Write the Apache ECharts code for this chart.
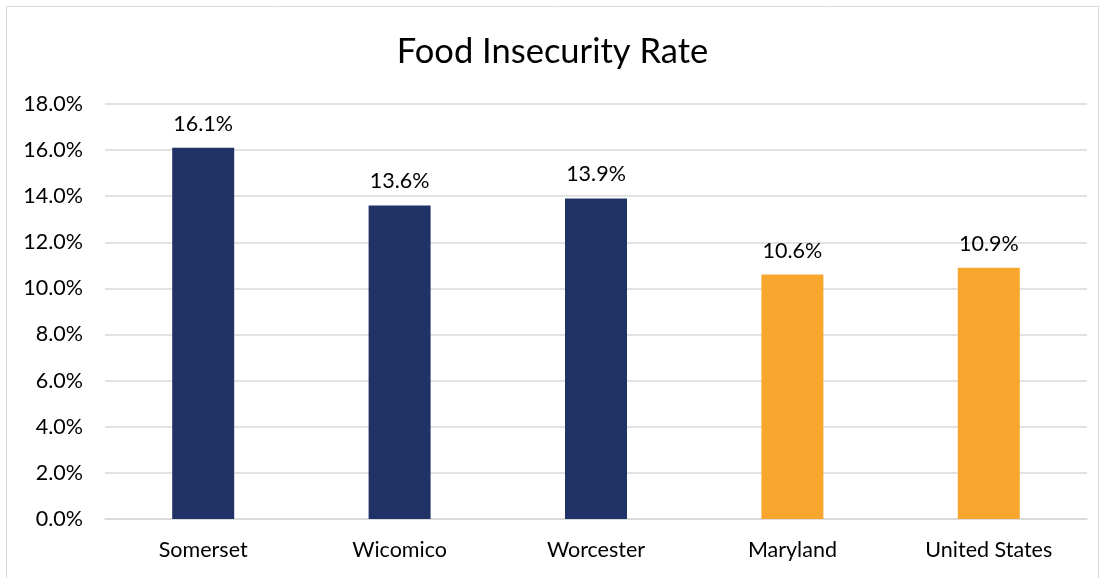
<!DOCTYPE html>
<html><head><meta charset="utf-8">
<script src="https://cdn.jsdelivr.net/npm/echarts@6/dist/echarts.min.js"></script>
<style>html,body{margin:0;padding:0;background:#fff}#c{width:1105px;height:578px}</style>
</head><body><div id="c"></div>
<script>
const categories = ["Somerset", "Wicomico", "Worcester", "Maryland", "United States"];
const values = [16.1, 13.6, 13.9, 10.6, 10.9];
const barColors = ["#213366", "#213366", "#213366", "#F9A62F", "#F9A62F"];
const yTicks = { min: 0, max: 18, interval: 2 };

const chart = echarts.init(document.getElementById('c'));
const font = 'Lato, "Open Sans", sans-serif';
chart.setOption({
  animation: false,
  graphic: [{ type: 'rect', shape: { x: 6.5, y: 6.5, width: 1092, height: 580 }, style: { fill: 'none', stroke: '#d9d9d9', lineWidth: 1 } }],
  title: { text: 'Food Insecurity Rate', left: 'center', top: 29, textStyle: { fontFamily: font, fontSize: 34.5, fontWeight: 'normal', color: '#000' } },
  grid: { left: 105, right: 18, top: 104, bottom: 59, containLabel: false },
  xAxis: {
    type: 'category', data: categories,
    axisLine: { lineStyle: { color: '#d9d9d9', width: 1.5 } }, axisTick: { show: false },
    axisLabel: { fontFamily: font, fontSize: 21.5, color: '#000', margin: 20 }
  },
  yAxis: {
    type: 'value', min: yTicks.min, max: yTicks.max, interval: yTicks.interval,
    axisLine: { show: false }, axisTick: { show: false },
    splitLine: { lineStyle: { color: '#d9d9d9', width: 1.5 } },
    axisLabel: { fontFamily: font, fontSize: 21.5, color: '#000', margin: 22, formatter: v => v.toFixed(1) + '%' }
  },
  series: [{
    type: 'bar', barWidth: 62,
    data: values.map((v, i) => ({ value: v, itemStyle: { color: barColors[i] } })),
    label: { show: true, position: 'top', distance: 13, fontFamily: font, fontSize: 21.5, color: '#000', formatter: p => p.value.toFixed(1) + '%' }
  }]
});
</script></body></html>
